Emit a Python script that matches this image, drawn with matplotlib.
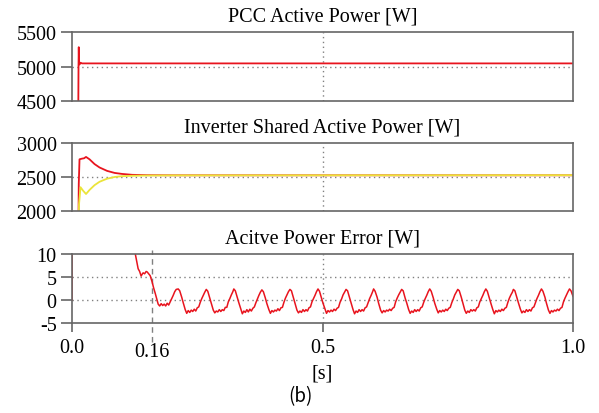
import matplotlib
matplotlib.use("Agg")
import matplotlib.pyplot as plt

# PCC active power [W]
pcc_t = [0.0, 0.0125, 0.013, 0.0135, 0.014, 0.015, 0.017, 0.020, 0.030, 1.0]
pcc_v = [4300, 4300, 5000, 5280, 5060, 5030, 5055, 5045, 5045, 5045]

# inverter shared active power [W]
inv1_t = [0.0, 0.013, 0.0135, 0.015, 0.020, 0.024, 0.028, 0.035, 0.045, 0.055,
          0.070, 0.085, 0.100, 0.120, 0.150, 0.200, 1.0]
inv1_v = [1900, 1900, 2400, 2760, 2770, 2775, 2795, 2760, 2690, 2640,
          2590, 2560, 2545, 2532, 2527, 2525, 2525]
inv2_t = [0.0, 0.0135, 0.014, 0.017, 0.022, 0.028, 0.035, 0.045, 0.055, 0.070,
          0.085, 0.100, 0.120, 0.150, 0.200, 1.0]
inv2_v = [1900, 1900, 2100, 2350, 2300, 2250, 2310, 2380, 2430, 2475,
          2500, 2512, 2518, 2522, 2524, 2527]

# active power error [W]
err_t = [0.0, 0.0005, 0.05, 0.10, 0.12, 0.126, 0.129, 0.132, 0.135, 0.138, 0.140, 0.142,
         0.145, 0.148, 0.150, 0.153, 0.156, 0.158, 0.160, 0.163, 0.166, 0.169, 0.172,
         0.175, 0.178, 0.181, 0.184, 0.187, 0.190, 0.193, 0.196, 0.199, 0.202, 0.205, 0.208,
         0.212, 0.215, 0.219, 0.222, 0.226, 0.229, 0.232, 0.235, 0.238, 0.241, 0.244, 0.247, 0.250, 0.253, 0.256, 0.259, 0.262, 0.265,
         0.268, 0.271, 0.275, 0.278, 0.282, 0.285, 0.288, 0.291, 0.294, 0.297, 0.300, 0.303, 0.306, 0.309, 0.312, 0.315, 0.318, 0.321,
         0.323, 0.326, 0.330, 0.333, 0.337, 0.340, 0.343, 0.346, 0.349, 0.352, 0.355, 0.358, 0.361, 0.364, 0.367, 0.370, 0.373, 0.376,
         0.379, 0.382, 0.386, 0.389, 0.393, 0.396, 0.399, 0.402, 0.405, 0.408, 0.411, 0.414, 0.417, 0.420, 0.423, 0.426, 0.429, 0.432,
         0.435, 0.438, 0.442, 0.445, 0.449, 0.452, 0.455, 0.458, 0.461, 0.464, 0.467, 0.470, 0.473, 0.476, 0.479, 0.482, 0.485, 0.488,
         0.491, 0.494, 0.498, 0.501, 0.505, 0.508, 0.511, 0.514, 0.517, 0.520, 0.523, 0.526, 0.529, 0.532, 0.535, 0.538, 0.541, 0.544,
         0.547, 0.550, 0.554, 0.557, 0.561, 0.564, 0.567, 0.570, 0.573, 0.576, 0.579, 0.582, 0.585, 0.588, 0.591, 0.594, 0.597, 0.600,
         0.602, 0.605, 0.609, 0.612, 0.616, 0.619, 0.622, 0.625, 0.628, 0.631, 0.634, 0.637, 0.640, 0.643, 0.646, 0.649, 0.652, 0.655,
         0.658, 0.661, 0.665, 0.668, 0.672, 0.675, 0.678, 0.681, 0.684, 0.687, 0.690, 0.693, 0.696, 0.699, 0.702, 0.705, 0.708, 0.711,
         0.714, 0.717, 0.721, 0.724, 0.728, 0.731, 0.734, 0.737, 0.740, 0.743, 0.746, 0.749, 0.752, 0.755, 0.758, 0.761, 0.764, 0.767,
         0.770, 0.773, 0.777, 0.780, 0.784, 0.787, 0.790, 0.793, 0.796, 0.799, 0.802, 0.805, 0.808, 0.811, 0.814, 0.817, 0.820, 0.823,
         0.826, 0.829, 0.833, 0.836, 0.840, 0.843, 0.846, 0.849, 0.852, 0.855, 0.858, 0.861, 0.864, 0.867, 0.870, 0.873, 0.876, 0.879,
         0.881, 0.884, 0.888, 0.891, 0.895, 0.898, 0.901, 0.904, 0.907, 0.910, 0.913, 0.916, 0.919, 0.922, 0.925, 0.928, 0.931, 0.934,
         0.937, 0.940, 0.944, 0.947, 0.951, 0.954, 0.957, 0.960, 0.963, 0.966, 0.969, 0.972, 0.975, 0.978, 0.981, 0.984, 0.987, 0.990,
         0.993, 0.996, 1.0]
err_v = [0.0, 200, 100, 30, 14, 10.2, 8.5, 6.8, 6.2, 5.2, 5.6, 5.9,
         5.7, 6.2, 6.1, 5.7, 5.3, 4.6, 3.9, 2.6, 1.5, 0.3, -0.9,
         -1.3, -0.8, -1.2, -0.9, -1.3, -0.7, -1.1, -0.4, 0.3, 1.0, 1.8, 2.3,
         2.4, 2.0, 0.6, -0.6, -2.1, -2.9, -2.3, -2.7, -2.2, -2.5, -2.0, -2.4, -1.7, -1.5, -0.5, 0.3, 1.0, 1.7,
         2.3, 1.9, 0.4, -0.7, -2.2, -2.8, -2.4, -2.6, -2.1, -2.5, -2.1, -2.3, -1.6, -1.6, -0.4, 0.3, 1.1, 1.8,
         2.4, 2.0, 0.5, -0.6, -2.0, -3.0, -2.4, -2.7, -2.1, -2.6, -2.0, -2.4, -1.8, -1.5, -0.6, 0.2, 1.0, 1.7,
         2.2, 1.8, 0.4, -0.8, -2.1, -2.9, -2.3, -2.6, -2.2, -2.4, -1.9, -2.3, -1.7, -1.6, -0.5, 0.4, 1.1, 1.8,
         2.3, 2.0, 0.5, -0.6, -2.2, -2.8, -2.4, -2.7, -2.1, -2.5, -2.1, -2.4, -1.7, -1.5, -0.4, 0.3, 1.0, 1.8,
         2.4, 1.9, 0.4, -0.7, -2.0, -2.9, -2.3, -2.6, -2.2, -2.5, -2.0, -2.3, -1.8, -1.6, -0.5, 0.2, 1.1, 1.7,
         2.3, 2.0, 0.5, -0.6, -2.1, -3.0, -2.4, -2.7, -2.1, -2.5, -2.1, -2.4, -1.7, -1.5, -0.6, 0.3, 1.0, 1.8,
         2.4, 1.9, 0.6, -0.7, -2.2, -2.8, -2.3, -2.6, -2.2, -2.4, -2.0, -2.3, -1.8, -1.6, -0.4, 0.4, 1.1, 1.7,
         2.3, 2.0, 0.4, -0.6, -2.1, -2.9, -2.4, -2.7, -2.1, -2.5, -2.1, -2.4, -1.7, -1.5, -0.5, 0.3, 1.0, 1.8,
         2.4, 1.9, 0.5, -0.7, -2.0, -2.8, -2.3, -2.6, -2.2, -2.5, -2.0, -2.3, -1.8, -1.6, -0.6, 0.2, 1.1, 1.7,
         2.3, 2.0, 0.6, -0.6, -2.2, -2.9, -2.4, -2.7, -2.1, -2.4, -2.1, -2.4, -1.7, -1.5, -0.4, 0.3, 1.0, 1.8,
         2.4, 1.9, 0.4, -0.7, -2.1, -3.0, -2.3, -2.6, -2.2, -2.5, -2.0, -2.3, -1.8, -1.6, -0.5, 0.4, 1.1, 1.7,
         2.3, 2.0, 0.5, -0.6, -2.0, -2.8, -2.4, -2.7, -2.1, -2.5, -2.1, -2.4, -1.7, -1.5, -0.6, 0.3, 1.0, 1.8,
         2.4, 1.9, 0.6, -0.7, -2.2, -2.9, -2.3, -2.6, -2.2, -2.4, -2.0, -2.3, -1.8, -1.6, -0.4, 0.4, 1.1, 1.8,
         2.4, 2.0, 0.8]

titles = ["PCC Active Power [W]", "Inverter Shared Active Power [W]", "Acitve Power Error [W]"]
yticks = [[4500, 5000, 5500], [2000, 2500, 3000], [-5, 0, 5, 10]]
ygrid = [[5000], [2500], [0, 5]]
xticks = [0.0, 0.5, 1.0]
xticklabels = ["0.0", "0.5", "1.0"]
t_mark = 0.16

RED = "#e8141e"
YELLOW = "#ebe43a"
SPINE = "#666666"
GRID = "#808080"

plt.rcParams["font.family"] = ["Liberation Serif", "DejaVu Serif"]
plt.rcParams["font.size"] = 14.5
plt.rcParams["axes.unicode_minus"] = False

fig = plt.figure(figsize=(5.99, 4.14), dpi=100)
boxes = [[0.1202, 0.7536, 0.8364, 0.1667],
         [0.1202, 0.4879, 0.8364, 0.1643],
         [0.1202, 0.2174, 0.8364, 0.1667]]
axes = [fig.add_axes(b) for b in boxes]

axes[0].plot(pcc_t, pcc_v, color=RED, lw=1.3)
axes[1].plot(inv1_t, inv1_v, color=RED, lw=1.3)
axes[1].plot(inv2_t, inv2_v, color=YELLOW, lw=1.3)
axes[2].plot(err_t, err_v, color=RED, lw=1.1)

for i, ax in enumerate(axes):
    ax.set_xlim(0, 1)
    ax.set_ylim(yticks[i][0], yticks[i][-1])
    ax.set_yticks(yticks[i])
    ax.set_title(titles[i], fontsize=14.5, pad=8.5)
    for y in ygrid[i]:
        ax.axhline(y, color=GRID, lw=1.0, ls=(0, (1, 2.5)), zorder=0)
    ax.axvline(0.5, color=GRID, lw=1.0, ls=(0, (1, 2.5)), zorder=0)
    for s in ax.spines.values():
        s.set_color(SPINE)
        s.set_linewidth(1.2)
    ax.tick_params(axis="y", direction="out", length=8, width=1.2, color=SPINE, pad=3)
    if i < 2:
        ax.set_xticks([])
    else:
        ax.set_xticks(xticks)
        ax.set_xticklabels(xticklabels)
        ax.tick_params(axis="x", direction="out", length=6.5, width=1.2, color=SPINE, pad=4)

# marker for the settling instant
ax = axes[2]
ax.plot([t_mark, t_mark], [-0.28, 1.06], transform=ax.get_xaxis_transform(),
        color=GRID, lw=1.0, ls=(0, (4, 3)), clip_on=False, zorder=0)
ax.text(t_mark, -0.42, "0.16", transform=ax.get_xaxis_transform(),
        ha="center", va="center", fontsize=14.5)
ax.text(0.5, -0.72, "[s]", transform=ax.get_xaxis_transform(),
        ha="center", va="center", fontsize=14.5)

fig.text(300 / 599, 1 - 397 / 414, "(b)", ha="center", va="center", fontsize=13.5,
         family=["Noto Sans CJK KR", "DejaVu Sans"])

fig.savefig("out.png", dpi=100)
